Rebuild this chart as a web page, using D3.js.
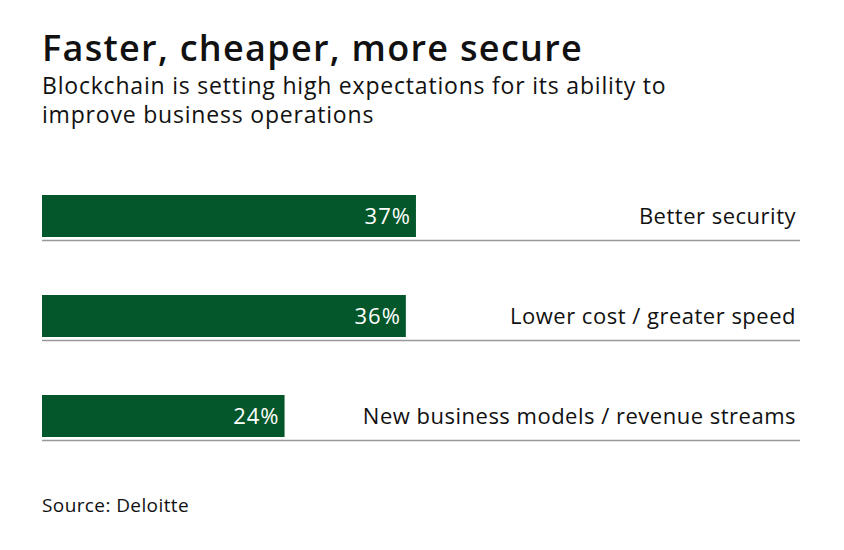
<!DOCTYPE html>
<html>
<head>
<meta charset="utf-8">
<script src="https://cdn.jsdelivr.net/npm/d3@7"></script>
<style>
  body { margin: 0; background: #fff; }
  text { font-family: "Open Sans", Lato, sans-serif; }
</style>
</head>
<body>
<div id="chart"></div>
<script>
var width = 844, height = 550;

var categories = ["Better security", "Lower cost / greater speed", "New business models / revenue streams"];
var values = [37, 36, 24];
var valueLabels = ["37%", "36%", "24%"];

var canvas = d3.select("#chart")
    .append("svg")
    .attr("width", width)
    .attr("height", height)

canvas.append("rect")
    .attr("width", width)
    .attr("height", height)
    .attr("fill", "white")

canvas.append("text")
    .attr("x", 42)
    .attr("y", 61)
    .text("Faster, cheaper, more secure")
    .style("font-size", "36px")
    .style("font-weight", "600")
    .style("letter-spacing", "1.3px")
    .style("fill", "#111")

canvas.append("text")
    .attr("x", 42)
    .attr("y", 94)
    .text("Blockchain is setting high expectations for its ability to")
    .style("font-size", "23px")
    .style("letter-spacing", "0.8px")
    .style("fill", "#111")

canvas.append("text")
    .attr("x", 42)
    .attr("y", 123)
    .text("improve business operations")
    .style("font-size", "23px")
    .style("letter-spacing", "0.8px")
    .style("fill", "#111")

// 0..75 spans the full rule width
var x = d3.scaleLinear().domain([0, 75]).range([42, 800])
var y = d3.scaleBand().domain(categories).range([180, 480]).paddingInner(0)

var rows = canvas.selectAll(".row")
    .data(categories.map((c, i) => ({ name: c, value: values[i], label: valueLabels[i] })))
    .enter()
    .append("g")
    .attr("class", "row")
    .attr("transform", d => "translate(0," + (y(d.name) + 15) + ")")

rows.append("rect")
    .attr("x", x(0))
    .attr("y", 0)
    .attr("width", d => x(d.value) - x(0))
    .attr("height", 42)
    .attr("fill", "#04572a")

rows.append("line")
    .attr("x1", x(0))
    .attr("x2", x(75))
    .attr("y1", 45.5)
    .attr("y2", 45.5)
    .style("stroke", "#999")
    .style("stroke-width", 1.5)

rows.append("text")
    .attr("x", d => x(d.value) - 5)
    .attr("y", 29)
    .text(d => d.label)
    .style("text-anchor", "end")
    .style("font-size", "22px")
    .style("letter-spacing", "1px")
    .style("fill", "white")

rows.append("text")
    .attr("x", 796)
    .attr("y", 29)
    .text(d => d.name)
    .style("text-anchor", "end")
    .style("font-size", "22px")
    .style("letter-spacing", "0.5px")
    .style("fill", "#111")

canvas.append("text")
    .attr("x", 42)
    .attr("y", 512)
    .text("Source: Deloitte")
    .style("font-size", "19px")
    .style("letter-spacing", "0.4px")
    .style("fill", "#111")
</script>
</body>
</html>
